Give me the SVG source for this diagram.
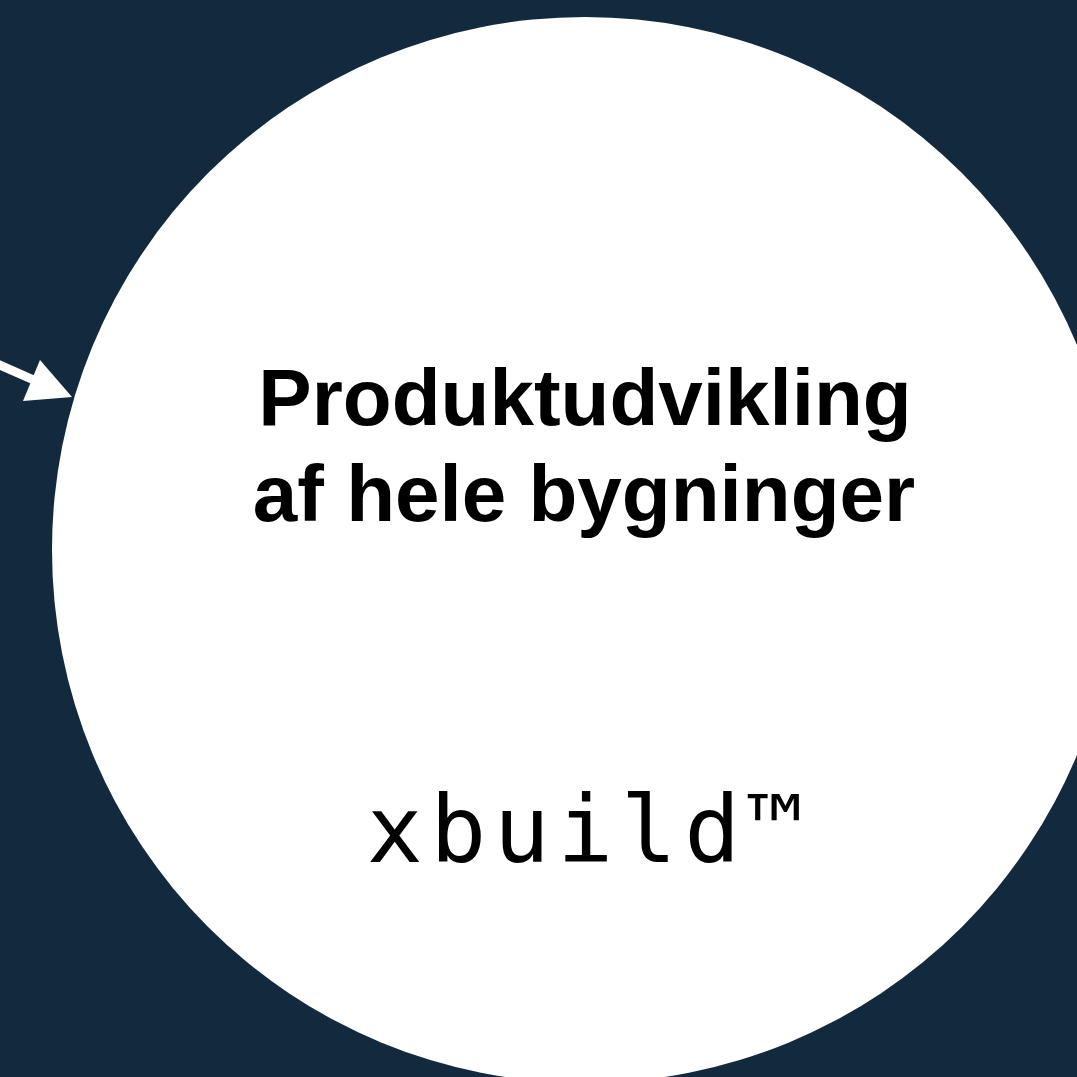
<svg xmlns="http://www.w3.org/2000/svg" width="1077" height="1077" viewBox="0 0 1077 1077">
<style>
.title{font-family:"Liberation Sans",Arial,sans-serif;font-weight:bold;font-size:80px;fill:#000;text-anchor:middle}
.brand{font-family:"DejaVu Sans Mono","Liberation Mono",monospace;font-size:93px;letter-spacing:7.5px;fill:#000;text-anchor:middle}
</style>
<rect width="1077" height="1077" fill="#132a3e"/>
<g id="connectors">
<line x1="-5" y1="363" x2="36" y2="381" stroke="#fff" stroke-width="9"/>
<polygon points="40,360 72,397 23,401" fill="#fff"/>
</g>
<g id="node-main">
<circle cx="585" cy="550" r="533" fill="#fff"/>
<text class="title" x="585" y="425">Produktudvikling</text>
<text class="title" x="584" y="521">af hele bygninger</text>
<text class="brand" x="589" y="862">xbuild™</text>
</g>
</svg>
